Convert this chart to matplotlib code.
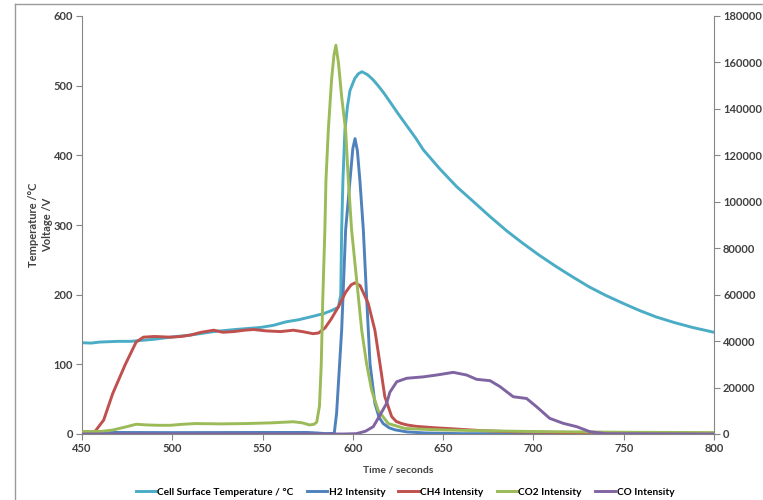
import numpy as np
import matplotlib
matplotlib.use("Agg")
import matplotlib.pyplot as plt
from matplotlib.lines import Line2D

plt.rcParams['font.family'] = ['Lato', 'DejaVu Sans']

# time / seconds and readings, cell surface temperature (left axis)
temp_t = [450, 455, 460, 470, 477, 490, 499, 510, 523, 535, 549, 556, 563, 570, 578, 584, 588, 592,
          593.3, 593.8, 594.5, 595.6, 597, 598.4, 601, 603, 605, 608, 611, 614, 617, 620.5, 625, 630,
          635, 639, 648, 657.5, 667, 676, 685, 694, 703, 712.8, 722, 731, 740, 749.7, 759, 768, 778,
          788, 800]
temp_v = [131, 130.5, 132, 133, 133, 136, 139, 142, 147, 150, 153, 156, 161, 164, 169, 173, 177, 182,
          200, 293, 364, 436, 470, 493, 510, 517, 520, 516, 509, 500, 490, 477, 460, 442,
          424, 408, 381, 355, 333, 312, 292, 274, 257, 240, 225, 211, 199, 187.5, 177, 168, 160,
          153, 146]

# gas intensities (right axis)
h2_t = [450, 500, 550, 575, 580, 585, 589.7, 591, 593.8, 596, 598.4, 600, 601.2, 602.5, 603.9, 605.8,
        607.6, 609.5, 612.2, 614.5, 616.8, 620, 623.3, 630, 640, 660, 800]
h2_v = [700, 600, 660, 660, 450, 150, 300, 9000, 44700, 87900, 109200, 123000, 127200, 122000,
        109200, 87900, 59100, 30300, 13200, 7200, 4500, 2700, 1800, 900, 450, 150, 90]

ch4_t = [450, 457, 462, 467, 474, 480, 484, 490, 499, 505, 510, 516, 523, 528, 534, 540, 545, 552,
         560, 567, 572, 578, 581, 584.5, 588, 592, 596, 599, 601.2, 604, 608.5, 612.2, 615, 617.7,
         621.5, 624, 627, 630, 635, 645, 655, 670, 690, 720, 760, 800]
ch4_v = [900, 900, 6000, 17400, 30000, 39600, 41700, 42000, 41700, 42000, 42600, 43800, 44700,
         43800, 44100, 44700, 45000, 44400, 44100, 44700, 44100, 43200, 43500, 45600, 49500, 54800,
         61000, 64200, 65100, 63900, 56250, 44700, 30300, 16050, 7500, 5400, 4500, 3900, 3300,
         2700, 2250, 1500, 900, 600, 450, 300]

co2_t = [450, 455, 461, 467, 474, 480, 486, 492, 499, 506, 513, 527, 541, 555, 567, 572, 576, 578.5,
         580, 581.5, 582.5, 583.3, 584.5, 585.1, 586.4, 588.2, 589.5, 590.6, 592, 593.8, 596, 597.5,
         599.3, 602.1, 604.9, 607.6, 610.4, 614, 619.6, 628.8, 640, 652, 670, 700, 750, 800]
co2_v = [990, 1050, 1140, 1710, 3000, 4200, 3900, 3750, 3750, 4200, 4500, 4350, 4500, 4800, 5280,
         4800, 3900, 4200, 5100, 12000, 30000, 57000, 87900, 109200, 130800, 152400, 163000, 167400,
         160000, 145200, 130800, 109200, 87900, 66300, 44700, 30300, 18900, 10200, 4500, 2400, 2000,
         1700, 1440, 1050, 750, 600]

co_t = [450, 595, 602, 607, 611.3, 615, 618.7, 620.5, 624.3, 629.8, 639, 646.4, 655.6, 663, 668.5,
        676, 681.5, 688.8, 696.2, 701.8, 709, 716.5, 724, 731.3, 740, 800]
co_v = [0, 0, 150, 1200, 3150, 8100, 13200, 18000, 22500, 24000, 24600, 25400, 26550, 25400, 23550,
        22950, 20400, 16050, 15300, 11700, 6750, 4590, 3150, 990, 150, 0]

fig = plt.figure(figsize=(7.63, 5.00), dpi=100)
ax = fig.add_axes([82 / 763, 1 - 434 / 500, (714 - 82) / 763, (434 - 16) / 500])
ax2 = ax.twinx()

lw = 2.1
l_t, = ax.plot(temp_t, temp_v, color='#4BACC6', lw=lw, label='Cell Surface Temperature / °C')
l_h2, = ax2.plot(h2_t, h2_v, color='#4F81BD', lw=lw, label='H2 Intensity')
l_ch4, = ax2.plot(ch4_t, ch4_v, color='#C0504D', lw=lw, label='CH4 Intensity')
l_co2, = ax2.plot(co2_t, co2_v, color='#9BBB59', lw=lw, label='CO2 Intensity')
l_co, = ax2.plot(co_t, co_v, color='#8064A2', lw=lw, label='CO Intensity')

ax.set_xlim(450, 800)
ax.set_ylim(0, 600)
ax2.set_ylim(0, 180000)
ax.set_xticks(np.arange(450, 801, 50))
ax.set_yticks(np.arange(0, 601, 100))
ax2.set_yticks(np.arange(0, 180001, 20000))

tc = '#404040'
sc = '#868686'
for a in (ax, ax2):
    for s in a.spines.values():
        s.set_visible(False)
    a.tick_params(colors=tc, labelsize=8, length=4, width=0.8, direction='out', pad=2.5)
    a.tick_params(color=sc)
    for lab in a.get_xticklabels() + a.get_yticklabels():
        lab.set_fontweight('bold')
ax.spines['left'].set_visible(True)
ax.spines['bottom'].set_visible(True)
ax2.spines['right'].set_visible(True)
ax.spines['left'].set_color(sc)
ax.spines['bottom'].set_color(sc)
ax2.spines['right'].set_color(sc)

ax.set_ylabel('Temperature /°C\nVoltage /V', fontsize=8, fontweight='bold', color=tc,
              multialignment='center', linespacing=1.35)
ax.yaxis.set_label_coords(-0.046, 0.5)
ax.set_xlabel('Time / seconds', fontsize=7.5, fontweight='bold', color=tc, labelpad=8)

fig.legend(handles=[l_t, l_h2, l_ch4, l_co2, l_co], loc='center', bbox_to_anchor=(405 / 763, 1 - 492 / 500),
           ncol=5, frameon=False, handlelength=2.0, handletextpad=0.15,
           columnspacing=1.3, prop={'weight': 'bold', 'size': 7.3})

# chart area border
fig.add_artist(Line2D([15 / 763, 15 / 763], [0, 1 - 4 / 500], color='#9a9a9a', lw=1))
fig.add_artist(Line2D([15 / 763, 1], [1 - 4 / 500, 1 - 4 / 500], color='#9a9a9a', lw=1))

fig.savefig('out.png', dpi=100)
